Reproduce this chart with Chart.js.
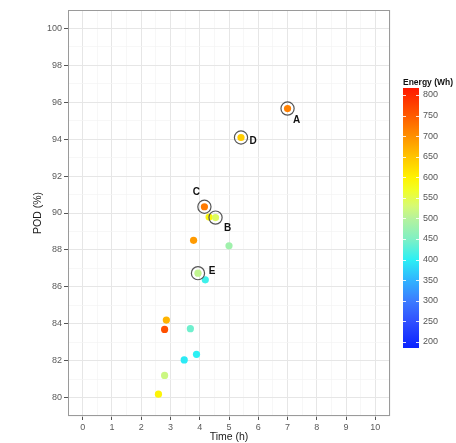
<!DOCTYPE html>
<html>
<head>
<meta charset="utf-8">
<script src="https://cdn.jsdelivr.net/npm/chart.js@4"></script>
<style>
  html, body { margin: 0; padding: 0; background: #ffffff; }
  #wrap { width: 456px; height: 443px; position: relative; }
</style>
</head>
<body>
<div id="wrap"><canvas id="c"></canvas></div>
<script>
// ---- data ----
const timeH    = [7.00, 5.41, 4.16, 4.32, 4.54, 3.79, 5.00, 3.94, 4.19, 2.86, 2.80, 3.68, 3.89, 3.47, 2.80, 2.59];
const podPct   = [95.66, 94.09, 90.34, 89.78, 89.75, 88.52, 88.22, 86.74, 86.38, 84.20, 83.69, 83.73, 82.34, 82.04, 81.20, 80.18];
const energyWh = [715, 640, 720, 590, 540, 690, 480, 510, 410, 665, 760, 440, 400, 395, 520, 595];
const pointTags = ['A', 'D', 'C', '', 'B', '', '', 'E', '', '', '', '', '', '', '', ''];

const xTickValues = [0, 1, 2, 3, 4, 5, 6, 7, 8, 9, 10];
const yTickValues = [80, 82, 84, 86, 88, 90, 92, 94, 96, 98, 100];
const energyTicks = [200, 250, 300, 350, 400, 450, 500, 550, 600, 650, 700, 750, 800];
const energyLimits = [185, 817];
const stopEnergies = [185, 250, 300, 350, 400, 450, 500, 530, 570, 600, 650, 700, 750, 817];
const stopColors   = ['#0a22ff', '#3050ff', '#3c7cff', '#30b4ff', '#2cf0f4', '#80f0c4', '#b6f29c', '#d6fa74', '#f2fe24', '#fff200', '#ffc400', '#ff9000', '#ff5a00', '#ff1800'];

// ---- styles ----
const labelOffsets = { A: [9, 12], D: [12, 4], C: [-8, -14], B: [12, 11], E: [14, -2] };
const FONT = "'Liberation Sans', Arial, Helvetica, sans-serif";
Chart.defaults.font.family = FONT;

function hexToRgb(h) {
  return [parseInt(h.slice(1, 3), 16), parseInt(h.slice(3, 5), 16), parseInt(h.slice(5, 7), 16)];
}
function energyColor(e) {
  if (e <= stopEnergies[0]) return stopColors[0];
  for (let i = 1; i < stopEnergies.length; i++) {
    if (e <= stopEnergies[i]) {
      const t = (e - stopEnergies[i - 1]) / (stopEnergies[i] - stopEnergies[i - 1]);
      const a = hexToRgb(stopColors[i - 1]), b = hexToRgb(stopColors[i]);
      const c = a.map((v, k) => Math.round(v + (b[k] - v) * t));
      return `rgb(${c[0]},${c[1]},${c[2]})`;
    }
  }
  return stopColors[stopColors.length - 1];
}

const points = timeH.map((x, i) => ({ x, y: podPct[i] }));
const ringIdx = pointTags.map((t, i) => t ? i : -1).filter(i => i >= 0);
const ringPoints = ringIdx.map(i => ({ x: timeH[i], y: podPct[i], tag: pointTags[i] }));

const isMajorX = v => xTickValues.includes(v);
const isMajorY = v => yTickValues.includes(v);

const borderPlugin = {
  id: 'panelBorder',
  afterDatasetsDraw(chart) {
    const { ctx, chartArea: a } = chart;
    ctx.save();
    ctx.strokeStyle = '#9a9a9a';
    ctx.lineWidth = 1;
    ctx.strokeRect(Math.round(a.left) + 0.5, Math.round(a.top) + 0.5, Math.round(a.right - a.left) - 1, Math.round(a.bottom - a.top) - 1);
    ctx.restore();
  }
};

const tagPlugin = {
  id: 'tags',
  afterDatasetsDraw(chart) {
    const ctx = chart.ctx;
    const meta = chart.getDatasetMeta(1);
    ctx.save();
    ctx.font = `bold 10px ${FONT}`;
    ctx.fillStyle = '#111111';
    ctx.textAlign = 'center';
    ctx.textBaseline = 'middle';
    meta.data.forEach((el, j) => {
      const tag = ringPoints[j].tag;
      const off = labelOffsets[tag] || [0, 0];
      ctx.fillText(tag, el.x + off[0], el.y + off[1]);
    });
    ctx.restore();
  }
};

const colorbarPlugin = {
  id: 'colorbar',
  afterDraw(chart, args, o) {
    const ctx = chart.ctx;
    const [lo, hi] = energyLimits;
    const e2y = e => o.bottom - (e - lo) / (hi - lo) * (o.bottom - o.top);
    ctx.save();
    const g = ctx.createLinearGradient(0, o.bottom, 0, o.top);
    stopEnergies.forEach((e, i) => g.addColorStop((e - lo) / (hi - lo), stopColors[i]));
    ctx.fillStyle = g;
    ctx.fillRect(o.left, o.top, o.width, o.bottom - o.top);
    // white ticks
    ctx.strokeStyle = 'rgba(255,255,255,0.85)';
    ctx.lineWidth = 1;
    energyTicks.forEach(e => {
      const y = Math.round(e2y(e)) + 0.5;
      ctx.beginPath();
      ctx.moveTo(o.left, y); ctx.lineTo(o.left + 3, y);
      ctx.moveTo(o.left + o.width - 3, y); ctx.lineTo(o.left + o.width, y);
      ctx.stroke();
    });
    // labels
    ctx.fillStyle = '#555555';
    ctx.font = `9px ${FONT}`;
    ctx.textAlign = 'left';
    ctx.textBaseline = 'middle';
    energyTicks.forEach(e => ctx.fillText(String(e), o.left + o.width + 4, e2y(e)));
    // title
    ctx.fillStyle = '#111111';
    ctx.font = `bold 8.5px ${FONT}`;
    ctx.textBaseline = 'alphabetic';
    ctx.fillText('Energy (Wh)', o.left, o.top - 3);
    ctx.restore();
  }
};

new Chart(document.getElementById('c'), {
  type: 'scatter',
  data: {
    datasets: [
      {
        data: points,
        pointRadius: 3.6,
        pointHoverRadius: 3.6,
        pointBorderWidth: 0,
        pointBackgroundColor: energyWh.map(energyColor),
        order: 2
      },
      {
        data: ringPoints,
        pointRadius: 6.6,
        pointHoverRadius: 6.6,
        pointBorderWidth: 1.2,
        pointBorderColor: '#555555',
        pointBackgroundColor: 'rgba(0,0,0,0)',
        order: 1
      }
    ]
  },
  options: {
    responsive: true,
    maintainAspectRatio: false,
    animation: false,
    events: [],
    layout: { padding: { left: 0, right: 66, top: 10, bottom: 0 } },
    plugins: {
      legend: { display: false },
      tooltip: { enabled: false },
      colorbar: { left: 403, width: 16, top: 88, bottom: 348 }
    },
    scales: {
      x: {
        type: 'linear',
        min: -0.5, max: 10.5,
        ticks: {
          stepSize: 0.5, autoSkip: false, maxRotation: 0, minRotation: 0,
          callback: v => isMajorX(v) ? String(v) : '',
          color: '#5a5a5a', font: { size: 9 }, padding: 2
        },
        grid: {
          color: c => (c.tick && isMajorX(c.tick.value)) ? '#e6e6e6' : '#f3f3f3',
          lineWidth: c => (c.tick && isMajorX(c.tick.value)) ? 1 : 0.7,
          tickColor: c => (c.tick && isMajorX(c.tick.value)) ? '#555555' : 'rgba(0,0,0,0)',
          tickLength: 4,
          tickWidth: 1
        },
        border: { display: false },
        title: { display: true, text: 'Time (h)', color: '#1a1a1a', font: { size: 10.5 }, padding: 0 },
        afterFit: s => { s.height = 27; }
      },
      y: {
        type: 'linear',
        min: 79, max: 101,
        ticks: {
          stepSize: 1, autoSkip: false,
          callback: v => isMajorY(v) ? String(v) : '',
          color: '#5a5a5a', font: { size: 9 }, padding: 2
        },
        grid: {
          color: c => (c.tick && isMajorY(c.tick.value)) ? '#e6e6e6' : '#f3f3f3',
          lineWidth: c => (c.tick && isMajorY(c.tick.value)) ? 1 : 0.7,
          tickColor: c => (c.tick && isMajorY(c.tick.value)) ? '#555555' : 'rgba(0,0,0,0)',
          tickLength: 4,
          tickWidth: 1
        },
        border: { display: false },
        title: { display: true, text: 'POD (%)', color: '#1a1a1a', font: { size: 10.5 }, padding: { top: 32, bottom: 0 } },
        afterFit: s => { s.width = 68; }
      }
    }
  },
  plugins: [borderPlugin, tagPlugin, colorbarPlugin]
});
</script>
</body>
</html>
